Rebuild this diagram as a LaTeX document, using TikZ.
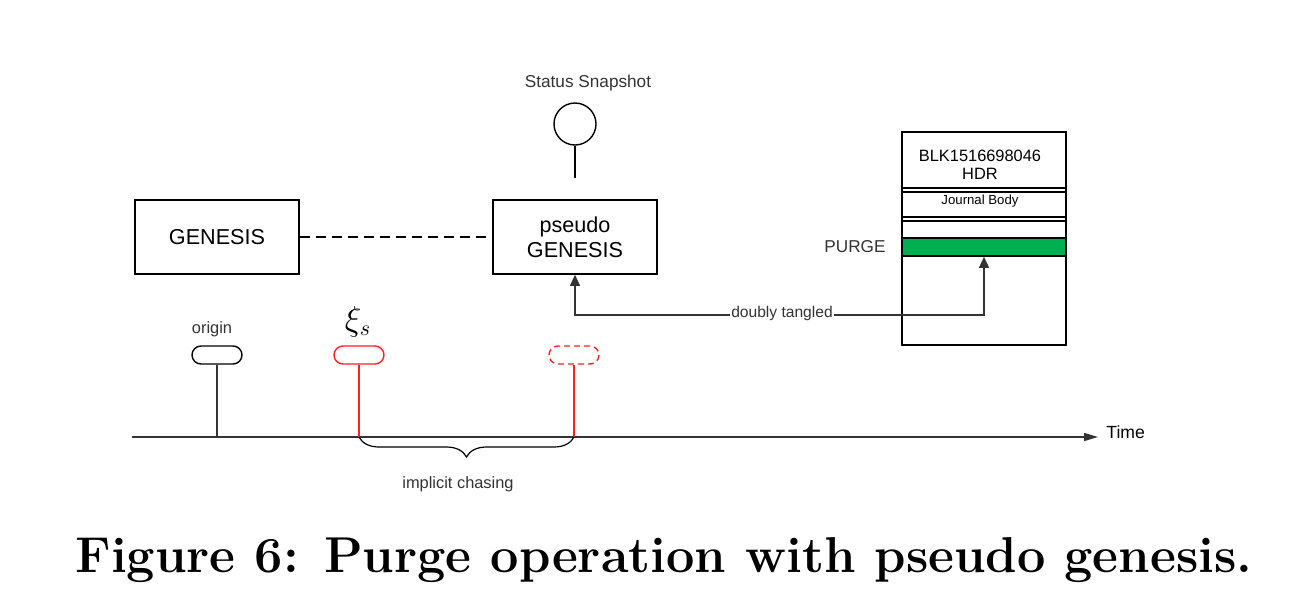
\documentclass[tikz,border=0pt]{standalone}
\usepackage{fontspec}
\newfontfamily\arial{Liberation Sans}
\usetikzlibrary{arrows.meta,decorations.pathreplacing}
\definecolor{ln}{HTML}{333333}
\definecolor{rd}{HTML}{FF2020}
\definecolor{gr}{HTML}{00B050}
\begin{document}
\begin{tikzpicture}[x=0.5pt,y=-0.5pt,
  box/.style={draw=black,line width=0.8pt,minimum width=82pt,minimum height=37pt,inner sep=0pt,align=center,font=\arial\fontsize{10.8}{12.5}\selectfont},
  pill/.style={draw,line width=0.7pt,rounded corners=4.5pt,minimum width=25pt,minimum height=9pt,inner sep=0pt},
  lbl/.style={font=\arial\fontsize{8.2}{9.5}\selectfont,inner sep=1pt,text=ln},
  conn/.style={line width=0.7pt,draw=ln},
  tip/.style={-{Triangle[length=5.5pt,width=5pt]}}
]
\useasboundingbox (0,0) rectangle (1302,601);
% boxes
\node[box] (gen) at (217,237) {GENESIS};
\node[box] (pgen) at (575,237) {pseudo\\GENESIS};
\draw[line width=0.7pt,dash pattern=on 5pt off 3pt,draw=black] (gen.east) -- (pgen.west);
% status snapshot
\node[circle,draw,line width=0.7pt,minimum size=21pt,inner sep=0pt] (snap) at (575,124) {};
\coordinate (snapend) at (575,178);
\draw[line width=0.7pt,draw=black] (snap.south) -- (snapend);
\node[lbl,font=\arial\fontsize{8.6}{10}\selectfont] (snaplbl) at (588,83) {Status Snapshot};
% block
\node[draw,line width=0.8pt,minimum width=82pt,minimum height=106.5pt,inner sep=0pt] (blk) at (984,238.5) {};
\draw[line width=0.8pt] (902,188) -- (1066,188) (902,192) -- (1066,192);
\draw[line width=0.8pt] (902,217) -- (1066,217) (902,221) -- (1066,221);
\node[draw=black,fill=gr,line width=0.8pt,minimum width=82pt,minimum height=9pt,inner sep=0pt] (purgebar) at (984,247) {};
\node[align=center,font=\arial\fontsize{8.2}{9.2}\selectfont,inner sep=0pt] (hdr) at (980,165) {BLK1516698046\\HDR};
\node[font=\arial\fontsize{6.6}{7.5}\selectfont,inner sep=0pt] (jb) at (980,201) {Journal Body};
\node[lbl,font=\arial\fontsize{8.6}{10}\selectfont] (purge) at (855,247) {PURGE};
% doubly tangled
\coordinate (dtc) at (782,315);
\draw[conn,tip] (dtc) -| (pgen.south);
\draw[conn,tip] (dtc) -| (purgebar.south);
\node[lbl,fill=white,inner sep=0.5pt,font=\arial\fontsize{7.8}{9}\selectfont] (dtl) at (782,313) {doubly tangled};
% time axis
\coordinate (t0) at (132,437);
\coordinate (t1) at (1098,437);
\draw[conn,line width=0.8pt,-{Triangle[length=7pt,width=4pt]}] (t0) -- (t1);
\node[font=\arial\fontsize{8.8}{10}\selectfont,anchor=west,inner sep=0pt] (time) at (1106,432) {Time};
% origin
\node[pill,draw=black] (orig) at (217,355) {};
\coordinate (o0) at (217,437);
\draw[conn] (orig.south) -- (o0);
\node[lbl] (origlbl) at (212,329) {origin};
% xi_s
\node[pill,draw=rd] (xi) at (359,355) {};
\coordinate (x0) at (359,437);
\draw[line width=0.7pt,draw=rd] (xi.south) -- (x0);
\node[inner sep=0pt,font=\fontsize{16}{18}\selectfont] (xilbl) at (358,322) {$\xi_s$};
% dashed future
\node[pill,draw=rd,dash pattern=on 3pt off 2pt] (fut) at (574,355) {};
\coordinate (f0) at (574,437);
\draw[line width=0.7pt,draw=rd] (fut.south) -- (f0);
% brace
\draw[line width=0.6pt,decorate,decoration={brace,mirror,amplitude=10pt}] (x0) -- (f0);
\node[lbl] (chase) at (458,484) {implicit chasing};
% caption
\node[font=\fontsize{25.2}{29}\selectfont\bfseries,inner sep=0pt] (cap) at (664,560) {Figure 6: Purge operation with pseudo genesis.};
\end{tikzpicture}
\end{document}
